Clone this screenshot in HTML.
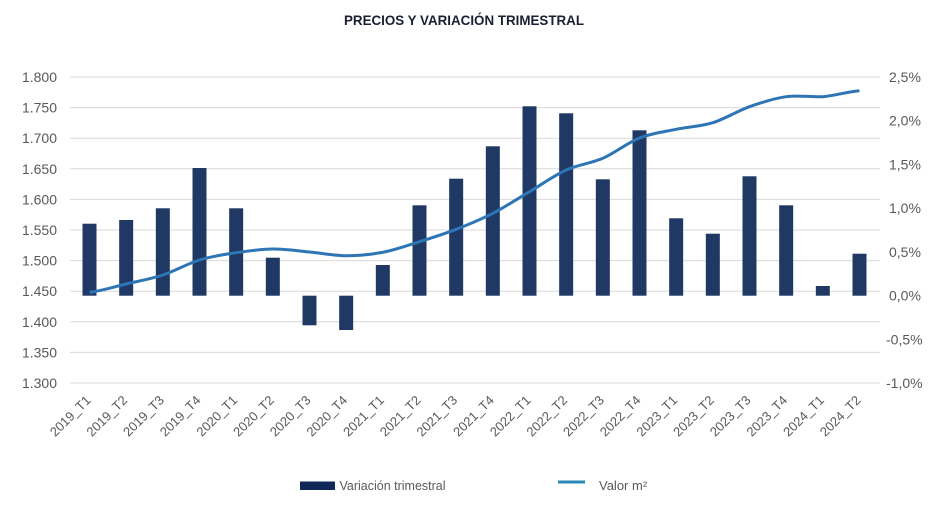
<!DOCTYPE html>
<html>
<head>
<meta charset="utf-8">
<style>
html,body{margin:0;padding:0;background:#fff;}
svg{display:block;}
text{font-family:"Liberation Sans",sans-serif;}
</style>
</head>
<body>
<svg width="950" height="508" viewBox="0 0 950 508" xmlns="http://www.w3.org/2000/svg">
<rect width="950" height="508" fill="#fff"/>
<text x="464" y="25" text-anchor="middle" font-size="14" font-weight="bold" fill="#1c1f33" textLength="240" lengthAdjust="spacingAndGlyphs">PRECIOS Y VARIACIÓN TRIMESTRAL</text>

<g stroke="#d9d9d9" stroke-width="1">
<line x1="70" x2="880" y1="77" y2="77"/>
<line x1="70" x2="880" y1="107.6" y2="107.6"/>
<line x1="70" x2="880" y1="138.2" y2="138.2"/>
<line x1="70" x2="880" y1="168.8" y2="168.8"/>
<line x1="70" x2="880" y1="199.4" y2="199.4"/>
<line x1="70" x2="880" y1="230" y2="230"/>
<line x1="70" x2="880" y1="260.6" y2="260.6"/>
<line x1="70" x2="880" y1="291.2" y2="291.2"/>
<line x1="70" x2="880" y1="321.8" y2="321.8"/>
<line x1="70" x2="880" y1="352.4" y2="352.4"/>
<line x1="70" x2="880" y1="383" y2="383"/>
</g>

<g font-size="14" fill="#595959" text-anchor="end">
<text x="57" y="82">1.800</text>
<text x="57" y="112.6">1.750</text>
<text x="57" y="143.2">1.700</text>
<text x="57" y="173.8">1.650</text>
<text x="57" y="204.4">1.600</text>
<text x="57" y="235">1.550</text>
<text x="57" y="265.6">1.500</text>
<text x="57" y="296.2">1.450</text>
<text x="57" y="326.8">1.400</text>
<text x="57" y="357.4">1.350</text>
<text x="57" y="388">1.300</text>
</g>

<g font-size="14" fill="#595959">
<text x="889" y="82">2,5%</text>
<text x="889" y="125.7">2,0%</text>
<text x="889" y="169.4">1,5%</text>
<text x="889" y="213.1">1,0%</text>
<text x="889" y="256.9">0,5%</text>
<text x="889" y="300.6">0,0%</text>
<text x="886" y="344.3">-0,5%</text>
<text x="886" y="388">-1,0%</text>
</g>

<g fill="#1f3864">
<rect x="82.5" y="223.7" width="14" height="72"/>
<rect x="119.17" y="220" width="14" height="75.7"/>
<rect x="155.83" y="208.3" width="14" height="87.4"/>
<rect x="192.5" y="168" width="14" height="127.7"/>
<rect x="229.17" y="208.3" width="14" height="87.4"/>
<rect x="265.83" y="257.7" width="14" height="38"/>
<rect x="302.5" y="295.7" width="14" height="29.6"/>
<rect x="339.17" y="295.7" width="14" height="34.3"/>
<rect x="375.83" y="265" width="14" height="30.7"/>
<rect x="412.5" y="205.3" width="14" height="90.4"/>
<rect x="449.17" y="178.7" width="14" height="117"/>
<rect x="485.83" y="146.3" width="14" height="149.4"/>
<rect x="522.5" y="106.3" width="14" height="189.4"/>
<rect x="559.17" y="113.3" width="14" height="182.4"/>
<rect x="595.83" y="179.3" width="14" height="116.4"/>
<rect x="632.5" y="130.3" width="14" height="165.4"/>
<rect x="669.17" y="218.3" width="14" height="77.4"/>
<rect x="705.83" y="233.7" width="14" height="62"/>
<rect x="742.5" y="176.3" width="14" height="119.4"/>
<rect x="779.17" y="205.3" width="14" height="90.4"/>
<rect x="815.83" y="286" width="14" height="9.7"/>
<rect x="852.5" y="253.7" width="14" height="42"/>
</g>

<path fill="none" stroke="#2e75b6" stroke-width="3" stroke-linejoin="round" stroke-linecap="butt"
d="M89.5 292.3
C101.72 290.92,113.95 286.88,126.17 284
C138.39 281.12,150.61 279,162.83 275
C175.05 271,187.28 263.72,199.5 260
C211.72 256.28,223.95 254.53,236.17 252.7
C248.39 250.87,260.61 249.12,272.83 249
C285.05 248.88,297.28 250.88,309.5 252
C321.72 253.12,333.95 255.65,346.17 255.7
C358.39 255.75,370.61 254.63,382.83 252.3
C395.05 249.97,407.28 245.53,419.5 241.7
C431.72 237.87,443.95 234.03,456.17 229.3
C468.39 224.57,480.61 219.57,492.83 213.3
C505.05 207.03,517.28 198.92,529.5 191.7
C541.72 184.48,553.95 175.57,566.17 170
C578.39 164.43,590.61 163.63,602.83 158.3
C615.05 152.97,627.28 142.83,639.5 138
C651.72 133.17,663.95 131.85,676.17 129.3
C688.39 126.75,700.61 126.47,712.83 122.7
C725.05 118.93,737.28 111.03,749.5 106.7
C761.72 102.37,773.95 98.37,786.17 96.7
C798.39 95.03,810.61 97.2,822.83 96.7
C835.05 95.7,847.28 91.7,859.5 90.7"/>

<g font-size="13" fill="#595959" text-anchor="end">
<text transform="translate(91.5,401) rotate(-45)">2019_T1</text>
<text transform="translate(128.17,401) rotate(-45)">2019_T2</text>
<text transform="translate(164.83,401) rotate(-45)">2019_T3</text>
<text transform="translate(201.5,401) rotate(-45)">2019_T4</text>
<text transform="translate(238.17,401) rotate(-45)">2020_T1</text>
<text transform="translate(274.83,401) rotate(-45)">2020_T2</text>
<text transform="translate(311.5,401) rotate(-45)">2020_T3</text>
<text transform="translate(348.17,401) rotate(-45)">2020_T4</text>
<text transform="translate(384.83,401) rotate(-45)">2021_T1</text>
<text transform="translate(421.5,401) rotate(-45)">2021_T2</text>
<text transform="translate(458.17,401) rotate(-45)">2021_T3</text>
<text transform="translate(494.83,401) rotate(-45)">2021_T4</text>
<text transform="translate(531.5,401) rotate(-45)">2022_T1</text>
<text transform="translate(568.17,401) rotate(-45)">2022_T2</text>
<text transform="translate(604.83,401) rotate(-45)">2022_T3</text>
<text transform="translate(641.5,401) rotate(-45)">2022_T4</text>
<text transform="translate(678.17,401) rotate(-45)">2023_T1</text>
<text transform="translate(714.83,401) rotate(-45)">2023_T2</text>
<text transform="translate(751.5,401) rotate(-45)">2023_T3</text>
<text transform="translate(788.17,401) rotate(-45)">2023_T4</text>
<text transform="translate(824.83,401) rotate(-45)">2024_T1</text>
<text transform="translate(861.5,401) rotate(-45)">2024_T2</text>
</g>

<rect x="300" y="481.5" width="35" height="8.5" fill="#10275a"/>
<text x="339.5" y="490" font-size="13" fill="#595959" textLength="106" lengthAdjust="spacingAndGlyphs">Variación trimestral</text>
<line x1="558" x2="585" y1="482" y2="482" stroke="#2a86b7" stroke-width="3"/>
<text x="599" y="490" font-size="13" fill="#595959">Valor m²</text>
</svg>
</body>
</html>
